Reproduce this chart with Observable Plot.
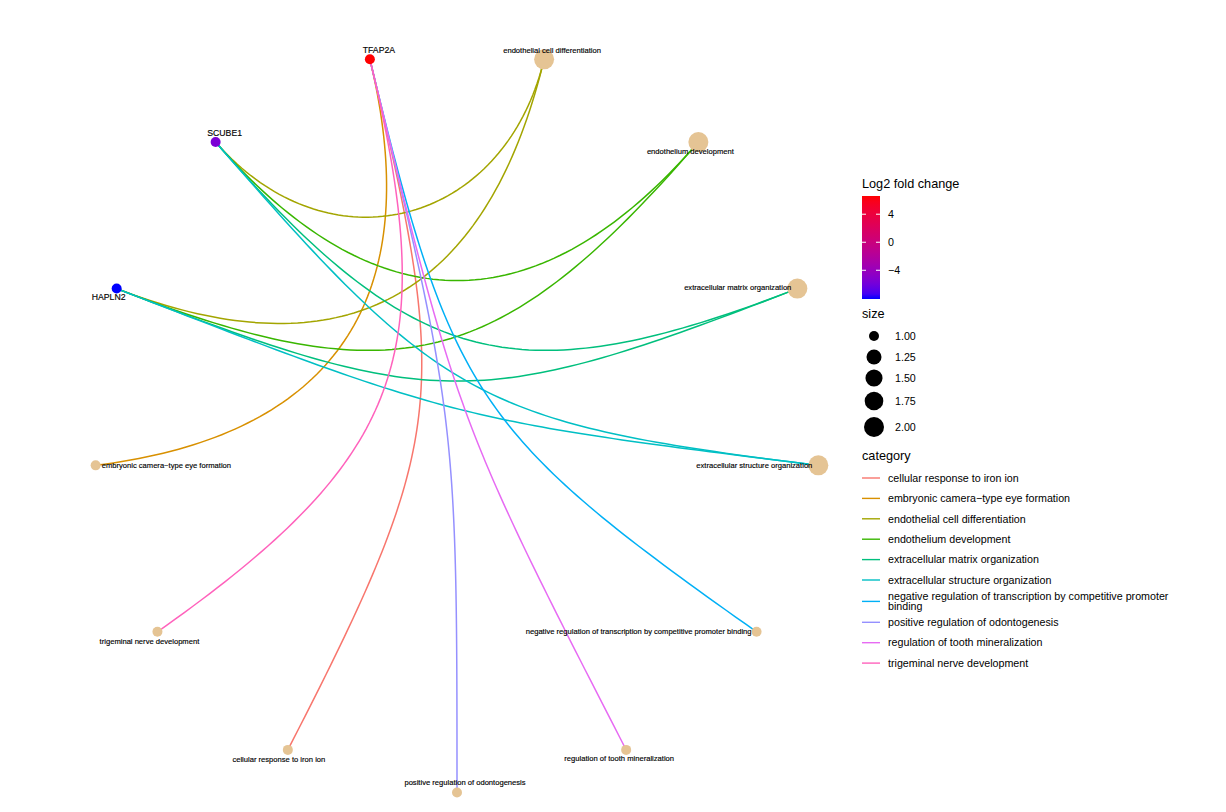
<!DOCTYPE html>
<html><head><meta charset="utf-8">
<script src="https://cdn.jsdelivr.net/npm/d3@7"></script>
<script src="https://cdn.jsdelivr.net/npm/@observablehq/plot@0.6"></script>
<style>
body{margin:0;background:#fff;font-family:"Liberation Sans",Arial,sans-serif;}
#wrap{position:relative;width:1226px;height:812px;}
#legend{position:absolute;left:0;top:0;}
</style></head><body>
<div id="wrap"><div id="chart"></div><svg id="legend" width="1226" height="812"></svg></div>
<script>
// ---- data ----
const categories = [
  "cellular response to iron ion",
  "embryonic camera\u2212type eye formation",
  "endothelial cell differentiation",
  "endothelium development",
  "extracellular matrix organization",
  "extracellular structure organization",
  "negative regulation of transcription by competitive promoter binding",
  "positive regulation of odontogenesis",
  "regulation of tooth mineralization",
  "trigeminal nerve development"
];
const categorySize = [1, 1, 2, 2, 2, 2, 1, 1, 1, 1];
const genes = ["TFAP2A", "SCUBE1", "HAPLN2"];
const geneLog2FC = [6.6, -5.6, -8.1];
const edgeGene = ["TFAP2A","TFAP2A","SCUBE1","HAPLN2","SCUBE1","HAPLN2","SCUBE1","HAPLN2","SCUBE1","HAPLN2","TFAP2A","TFAP2A","TFAP2A","TFAP2A"];
const edgeCategory = [
  "cellular response to iron ion",
  "embryonic camera\u2212type eye formation",
  "endothelial cell differentiation","endothelial cell differentiation",
  "endothelium development","endothelium development",
  "extracellular matrix organization","extracellular matrix organization",
  "extracellular structure organization","extracellular structure organization",
  "negative regulation of transcription by competitive promoter binding",
  "positive regulation of odontogenesis",
  "regulation of tooth mineralization",
  "trigeminal nerve development"
];
// circular layout order (counter-clockwise from bottom)
const nodeOrder = [
  "positive regulation of odontogenesis",
  "regulation of tooth mineralization",
  "negative regulation of transcription by competitive promoter binding",
  "extracellular structure organization",
  "extracellular matrix organization",
  "endothelium development",
  "endothelial cell differentiation",
  "TFAP2A","SCUBE1","HAPLN2",
  "embryonic camera\u2212type eye formation",
  "trigeminal nerve development",
  "cellular response to iron ion"
];
const sizeTicks = [1, 1.25, 1.5, 1.75, 2];
const colorTicks = [4, 0, -4];

// ---- styles ----
const palette = ["#F8766D","#D89000","#A3A500","#39B600","#00BF7D","#00BFC4","#00B0F6","#9590FF","#E76BF3","#FF62BC"];
const categoryFill = "#E5C494";
// label placement (px offsets from node)
const labelPlace = {
  "TFAP2A": {dx: 9, dy: -9, anchor: "middle"},
  "SCUBE1": {dx: 9, dy: -9, anchor: "middle"},
  "HAPLN2": {dx: -8, dy: 9, anchor: "middle"},
  "endothelial cell differentiation": {dx: 8, dy: -9, anchor: "middle"},
  "endothelium development": {dx: -8, dy: 10, anchor: "middle"},
  "extracellular matrix organization": {dx: -6, dy: -1, anchor: "end"},
  "extracellular structure organization": {dx: -6, dy: 0, anchor: "end"},
  "negative regulation of transcription by competitive promoter binding": {dx: -5, dy: 0, anchor: "end"},
  "regulation of tooth mineralization": {dx: -7, dy: 9, anchor: "middle"},
  "positive regulation of odontogenesis": {dx: 8, dy: -10, anchor: "middle"},
  "cellular response to iron ion": {dx: -9, dy: 10, anchor: "middle"},
  "trigeminal nerve development": {dx: -8, dy: 10, anchor: "middle"},
  "embryonic camera\u2212type eye formation": {dx: 6, dy: 0, anchor: "start"}
};

// ---- layout ----
const N = nodeOrder.length;
const layout = new Map(nodeOrder.map((name, k) => {
  const a = -Math.PI / 2 + k * 2 * Math.PI / N;
  return [name, [Math.cos(a), Math.sin(a)]];
}));
const catNodes = categories.map((c, i) => ({name: c, size: categorySize[i], x: layout.get(c)[0], y: layout.get(c)[1]}));
const geneNodes = genes.map((g, i) => ({name: g, value: geneLog2FC[i], x: layout.get(g)[0], y: layout.get(g)[1]}));
const allNodes = [...catNodes, ...geneNodes];

const edgePoints = edgeGene.flatMap((g, i) => {
  const [x0, y0] = layout.get(g), [x3, y3] = layout.get(edgeCategory[i]);
  const rc = 1 - Math.hypot(x3 - x0, y3 - y0) / 2;
  const c1 = [x0 * rc, y0 * rc], c2 = [x3 * rc, y3 * rc];
  return d3.range(0, 81).map(j => {
    const t = j / 80, s = 1 - t;
    return {
      id: i, category: edgeCategory[i],
      x: s*s*s*x0 + 3*s*s*t*c1[0] + 3*s*t*t*c2[0] + t*t*t*x3,
      y: s*s*s*y0 + 3*s*s*t*c1[1] + 3*s*t*t*c2[1] + t*t*t*y3
    };
  });
});

const edgeMarks = categories.map((c, i) =>
  Plot.line(edgePoints.filter(d => d.category === c), {x: "x", y: "y", z: "id", stroke: palette[i], strokeWidth: 1.5, strokeOpacity: 1, curve: "linear"})
);
const labelMarks = allNodes.map(n => {
  const p = labelPlace[n.name];
  const isGene = genes.includes(n.name);
  return Plot.text([n], {x: "x", y: "y", text: "name", dx: p.dx, dy: p.dy, textAnchor: p.anchor,
    fontSize: isGene ? 8.7 : 7.6, fill: "black", stroke: "black", strokeWidth: 0.15,
    fontFamily: "Liberation Sans, Arial, sans-serif"});
});

const chart = Plot.plot({
  width: 1226, height: 812,
  marginLeft: 92.5, marginRight: 405.5, marginTop: 48, marginBottom: 20,
  x: {domain: [-1, 1], axis: null},
  y: {domain: [-1, 1], axis: null},
  color: {type: "linear", domain: d3.extent(geneLog2FC), range: ["blue", "red"], interpolate: d3.interpolateLab},
  r: {type: "sqrt", domain: [0, 1], range: [5, 10]},
  style: {background: "white"},
  marks: [
    ...edgeMarks,
    Plot.dot(catNodes, {x: "x", y: "y", r: d => d.size - 1, fill: categoryFill}),
    Plot.dot(geneNodes, {x: "x", y: "y", r: 5, fill: "value"}),
    ...labelMarks
  ]
});
document.getElementById("chart").appendChild(chart);

// ---- legends ----
const cs = chart.scale("color");
const rs = chart.scale("r");
const svg = d3.select("#legend");
const font = "Liberation Sans, Arial, sans-serif";
const lx = 862;
const fs = 10.7;

// color bar
svg.append("text").attr("x", lx).attr("y", 188).attr("font-size", 12.7).attr("font-family", font).text("Log2 fold change");
const barTop = 196, barBot = 299, barW = 18;
const vs = d3.scaleLinear().domain(cs.domain).range([barBot, barTop]);
const defs = svg.append("defs");
const grad = defs.append("linearGradient").attr("id", "cg").attr("x1", 0).attr("y1", 1).attr("x2", 0).attr("y2", 0);
d3.range(0, 21).forEach(i => {
  const v = cs.domain[0] + (cs.domain[1] - cs.domain[0]) * i / 20;
  grad.append("stop").attr("offset", i / 20).attr("stop-color", cs.apply(v));
});
svg.append("rect").attr("x", lx).attr("y", barTop).attr("width", barW).attr("height", barBot - barTop).attr("fill", "url(#cg)");
colorTicks.forEach(t => {
  const y = vs(t);
  svg.append("line").attr("x1", lx).attr("x2", lx + 4).attr("y1", y).attr("y2", y).attr("stroke", "white").attr("stroke-width", 1);
  svg.append("line").attr("x1", lx + barW - 4).attr("x2", lx + barW).attr("y1", y).attr("y2", y).attr("stroke", "white").attr("stroke-width", 1);
  svg.append("text").attr("x", lx + 26).attr("y", y).attr("dy", "0.35em").attr("font-size", fs).attr("font-family", font)
    .text(t < 0 ? "\u2212" + Math.abs(t) : String(t));
});

// size legend
svg.append("text").attr("x", lx).attr("y", 318).attr("font-size", 12.7).attr("font-family", font).text("size");
const sizeY = [336, 357, 378, 401, 427];
sizeTicks.forEach((s, i) => {
  svg.append("circle").attr("cx", lx + 12).attr("cy", sizeY[i]).attr("r", rs.apply(s - 1)).attr("fill", "black");
  svg.append("text").attr("x", lx + 33).attr("y", sizeY[i]).attr("dy", "0.35em").attr("font-size", fs).attr("font-family", font).text(s.toFixed(2));
});

// category legend
svg.append("text").attr("x", lx).attr("y", 460).attr("font-size", 12.7).attr("font-family", font).text("category");
function wrap(s, w) {
  const words = s.split(" "); const lines = []; let cur = "";
  words.forEach(wd => { if ((cur + " " + wd).trim().length > w) { lines.push(cur); cur = wd; } else cur = (cur + " " + wd).trim(); });
  lines.push(cur); return lines;
}
let cy = 478;
categories.forEach((c, i) => {
  const lines = wrap(c, 62);
  const extra = (lines.length - 1) * 10.5;
  if (lines.length > 1) cy += 1;
  svg.append("line").attr("x1", lx).attr("x2", lx + 18).attr("y1", cy).attr("y2", cy).attr("stroke", palette[i]).attr("stroke-width", 1.4);
  const tx = svg.append("text").attr("x", lx + 26).attr("font-size", fs).attr("font-family", font);
  lines.forEach((ln, j) => tx.append("tspan").attr("x", lx + 26).attr("y", cy - extra / 2 + j * 10.5).attr("dy", "0.35em").text(ln));
  cy += 20.4 + (lines.length > 1 ? 0.5 : 0);
});
</script>
</body></html>
